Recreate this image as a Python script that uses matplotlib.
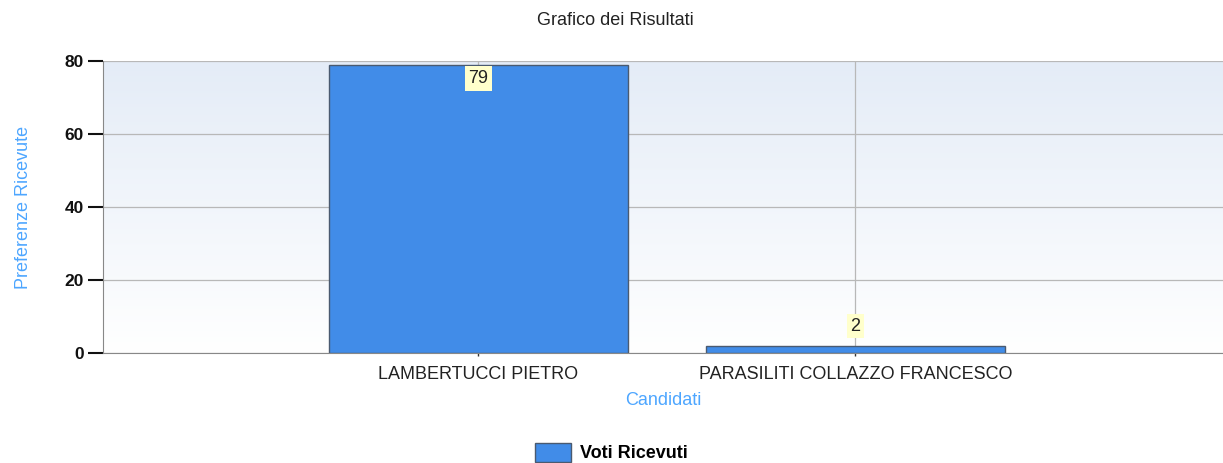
import matplotlib as mpl
mpl.use('Agg')
import matplotlib.pyplot as plt
import numpy as np
from matplotlib.patches import Patch

candidati = ['LAMBERTUCCI PIETRO', 'PARASILITI COLLAZZO FRANCESCO']
voti = [79, 2]
y_ticks = [0, 20, 40, 60, 80]

plt.rcParams['font.family'] = ['Liberation Sans', 'DejaVu Sans']

fig = plt.figure(figsize=(12.23, 4.63), dpi=100)
ax = fig.add_axes([0.0842, 0.2376, 0.9158, 0.6307])

x = np.arange(1, len(candidati) + 1)
x0, x1 = 0.004, 2.975
ax.set_xlim(x0, x1)
ax.set_ylim(0, 80)

# gradient background, light blue at top to white at bottom
grad = np.linspace(0, 1, 256).reshape(-1, 1)
cmap = mpl.colors.LinearSegmentedColormap.from_list('bg', ['#ffffff', '#e4ecf7'])
ax.imshow(grad, extent=[x0, x1, 0, 80], aspect='auto', origin='lower',
          cmap=cmap, zorder=0)

ax.grid(True, color='#b8b8b8', linewidth=0.9, zorder=1)
ax.set_axisbelow(True)

bars = ax.bar(x, voti, width=0.795, color='#418ce8', edgecolor='#4a5a70',
              linewidth=1.0, zorder=2, label='Voti Ricevuti')

for xi, v in zip(x, voti):
    if v > 70:
        off = -10
    else:
        off = 14
    ax.annotate(str(v), (xi, v), xytext=(0, off), textcoords='offset points',
                ha='center', va='center', fontsize=13, color='#222222',
                bbox=dict(boxstyle='square,pad=0.2', fc='#ffffcc', ec='none'),
                zorder=4)

ax.set_xticks(x)
ax.set_xticklabels(candidati, fontsize=13, color='#222222')
ax.set_yticks(y_ticks)
ax.set_yticklabels([str(t) for t in y_ticks], fontsize=12.5, fontweight='bold', color='#111111')
ax.tick_params(axis='y', length=11, width=1.5, color='#111111', pad=3)
ax.tick_params(axis='x', length=5, width=1.0, color='#333333', direction='inout', pad=7)

for s in ['top', 'right']:
    ax.spines[s].set_visible(False)
ax.spines['left'].set_color('#888888')
ax.spines['bottom'].set_color('#888888')

ax.set_xlabel('Candidati', fontsize=13, color='#4da6ff', labelpad=6)
ax.set_ylabel('Preferenze Ricevute', fontsize=13, color='#4da6ff', labelpad=23)
fig.text(0.503, 0.955, 'Grafico dei Risultati', ha='center', va='center',
         fontsize=13, color='#222222')

handles = [Patch(facecolor='#418ce8', edgecolor='#4a5a70', label='Voti Ricevuti')]
fig.legend(handles=handles, loc='center', bbox_to_anchor=(0.5, 0.022),
           frameon=False, prop={'weight': 'bold', 'size': 13},
           handlelength=2.0, handleheight=1.2, handletextpad=0.5)

fig.savefig('out.png', dpi=100)
